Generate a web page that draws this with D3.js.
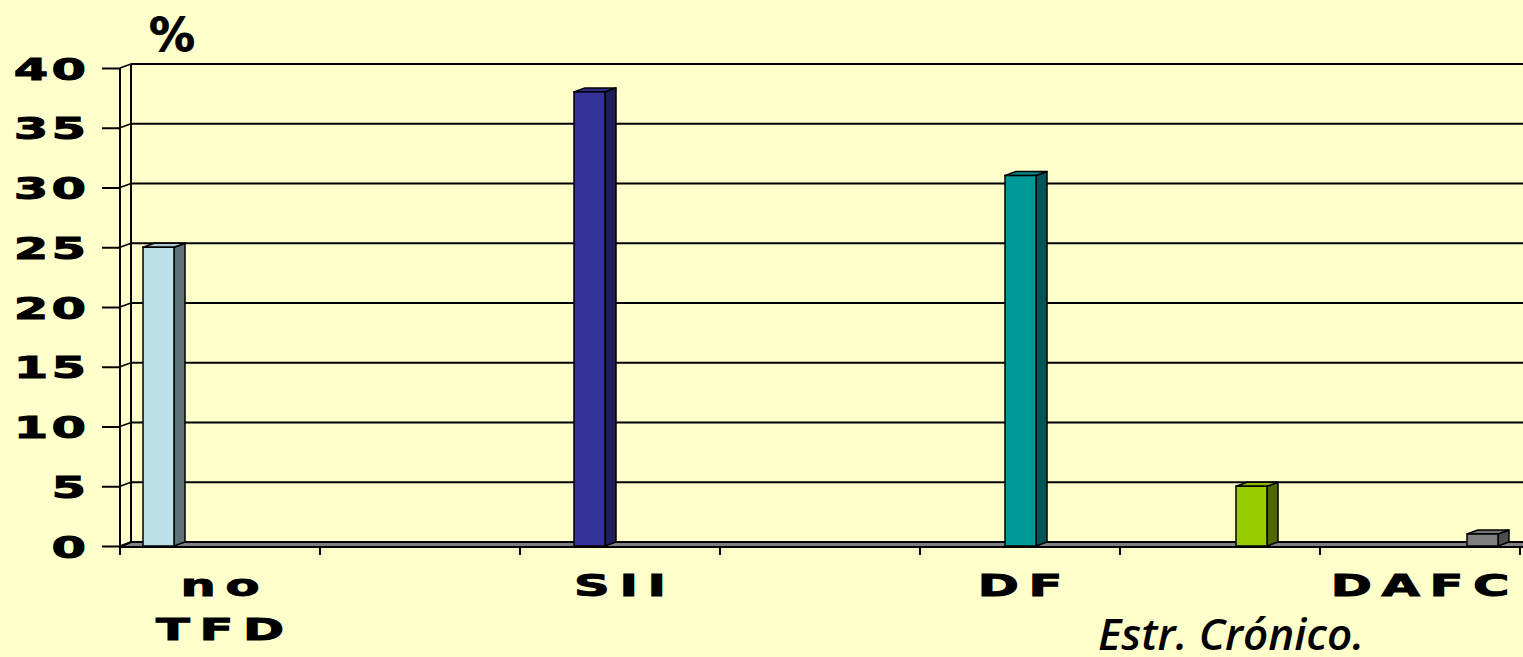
<!DOCTYPE html>
<html lang="es">
  <head>
    <meta charset="UTF-8" />
    <title>Estr. Crónico</title>
    <style>
      html, body { margin: 0; padding: 0; background: #ffffcc; }
      svg { display: block; }
    </style>
  </head>
  <body>
    <svg id="svg" width="1523" height="657"></svg>

    <script src="https://cdn.jsdelivr.net/npm/d3@7"></script>
    <script>
      // category slots on the x axis (only every other one gets a label)
      const categories = ["no TFD", "c2", "SII", "c4", "DF", "Estr. Crónico.", "DAFC"];
      const shownLabels = ["no TFD", "SII", "DF", "DAFC"];
      // one series per bar
      const series = ["no TFD", "SII", "DF", "Estr. Crónico.", "DAFC"];
      const values = [25, 38, 31, 5, 1];
      const colors = ["#bde0e6", "#333399", "#009999", "#99cc00", "#808080"];
      const sideColors = ["#5e7376", "#1f1f5c", "#005656", "#4d6600", "#4d4d4d"];
      const yTicks = [0, 5, 10, 15, 20, 25, 30, 35, 40];

      const DX = 11, DY = 4; // 3d depth
      const SX = 1.6; // horizontal stretch of the heavy labels

      const svg = d3.select("#svg");

      const x0 = d3.scaleBand().domain(categories).range([120, 1520]);
      const x1 = d3.scaleBand().domain(series).range([23, 178]);
      const y = d3.scaleLinear().domain([0, 40]).range([546, 68]);

      // floor
      svg.append("polygon")
        .attr("points", [[120, y(0) + 1], [1540, y(0) + 1], [1540 + DX, y(0) - DY], [120 + DX, y(0) - DY]].join(" "))
        .attr("fill", "#808080")
        .attr("stroke", "#000")
        .attr("stroke-width", 2);

      // back wall grid lines + connectors
      yTicks.forEach((t) => {
        if (t > 0) {
          svg.append("line")
            .attr("x1", 120 + DX).attr("x2", 1540)
            .attr("y1", y(t) - DY).attr("y2", y(t) - DY)
            .attr("stroke", "#000").attr("stroke-width", 2);
        }
        svg.append("line")
          .attr("x1", 120).attr("x2", 120 + DX)
          .attr("y1", y(t)).attr("y2", y(t) - DY)
          .attr("stroke", "#000").attr("stroke-width", 1.5);
      });

      // back wall left edge
      svg.append("line")
        .attr("x1", 120 + DX).attr("x2", 120 + DX)
        .attr("y1", y(40) - DY).attr("y2", y(0) - DY)
        .attr("stroke", "#000").attr("stroke-width", 2);

      // y axis
      const yAxis = d3.axisLeft(y).tickValues(yTicks).tickSize(18).tickPadding(14);
      const gy = svg.append("g").attr("transform", "translate(120,0)").call(yAxis);
      gy.select(".domain").remove();
      gy.selectAll(".tick line").attr("stroke", "#000").attr("stroke-width", 2);
      gy.selectAll(".tick text")
        .attr("fill", "#000")
        .attr("stroke", "#000")
        .attr("stroke-width", 1)
        .style("font-family", "DejaVu Sans")
        .style("font-weight", "bold")
        .style("font-size", "31px")
        .style("letter-spacing", "2px")
        .attr("transform", `scale(${SX},1)`)
        .attr("x", (-34 + 2 * SX) / SX)
        .attr("dy", "0.36em");
      svg.append("line")
        .attr("x1", 120).attr("x2", 120)
        .attr("y1", y(40)).attr("y2", y(0) + 9)
        .attr("stroke", "#000").attr("stroke-width", 2);

      // x axis ticks
      const xTicks = categories.map((c) => x0(c)).concat([x0(categories[categories.length - 1]) + x0.bandwidth()]);
      svg.selectAll(".xtick")
        .data(xTicks)
        .enter()
        .append("line")
        .attr("x1", (d) => d).attr("x2", (d) => d)
        .attr("y1", y(0)).attr("y2", y(0) + 9)
        .attr("stroke", "#000").attr("stroke-width", 2);

      // bars
      const bars = svg.selectAll(".bar")
        .data(series.map((s, i) => ({ s, v: values[i], i })))
        .enter()
        .append("g");
      const bx = (d) => x0(d.s) + x1(d.s);
      const bw = x1.bandwidth();
      bars.append("polygon")
        .attr("points", (d) => {
          const l = bx(d) + bw, t = y(d.v), b = y(0);
          return [[l, b], [l + DX, b - DY], [l + DX, t - DY], [l, t]].join(" ");
        })
        .attr("fill", (d) => sideColors[d.i])
        .attr("stroke", "#000").attr("stroke-width", 1.5).attr("stroke-linejoin", "round");
      bars.append("polygon")
        .attr("points", (d) => {
          const l = bx(d), t = y(d.v);
          return [[l, t], [l + DX, t - DY], [l + bw + DX, t - DY], [l + bw, t]].join(" ");
        })
        .attr("fill", (d) => d3.color(colors[d.i]).darker(0.3))
        .attr("stroke", "#000").attr("stroke-width", 1.5).attr("stroke-linejoin", "round");
      bars.append("rect")
        .attr("x", (d) => bx(d))
        .attr("y", (d) => y(d.v))
        .attr("width", bw)
        .attr("height", (d) => y(0) - y(d.v))
        .attr("fill", (d) => colors[d.i])
        .attr("stroke", "#000").attr("stroke-width", 1.5);

      // category labels
      const ls = 6;
      const labels = svg.selectAll(".xlab")
        .data(shownLabels)
        .enter()
        .append("text")
        .attr("text-anchor", "middle")
        .attr("transform", (d) => `translate(${x0(d) + x0.bandwidth() / 2},596) scale(${SX},1)`)
        .style("font-family", "DejaVu Sans")
        .style("font-weight", "bold")
        .style("font-size", "31px")
        .style("letter-spacing", ls + "px")
        .attr("fill", "#000")
        .attr("stroke", "#000")
        .attr("stroke-width", 1);
      labels.each(function (d) {
        const parts = d.split(" ");
        d3.select(this).selectAll("tspan")
          .data(parts)
          .enter()
          .append("tspan")
          .attr("x", ls / 2)
          .attr("dy", (p, i) => (i === 0 ? 0 : 44))
          .text((p) => p);
      });

      // title under the unlabeled slot
      svg.append("text")
        .attr("x", x0("Estr. Crónico.") + x0.bandwidth() / 2 + 11)
        .attr("y", 650)
        .attr("text-anchor", "middle")
        .style("font-family", "Open Sans")
        .style("font-style", "italic")
        .style("font-weight", "600")
        .style("font-size", "44px")
        .attr("fill", "#000")
        .text("Estr. Crónico.");

      // unit
      svg.append("text")
        .attr("x", 149)
        .attr("y", 51)
        .style("font-family", "DejaVu Sans")
        .style("font-weight", "bold")
        .style("font-size", "46px")
        .attr("fill", "#000")
        .attr("stroke", "#000")
        .attr("stroke-width", 0.8)
        .text("%");
    </script>
  </body>
</html>
